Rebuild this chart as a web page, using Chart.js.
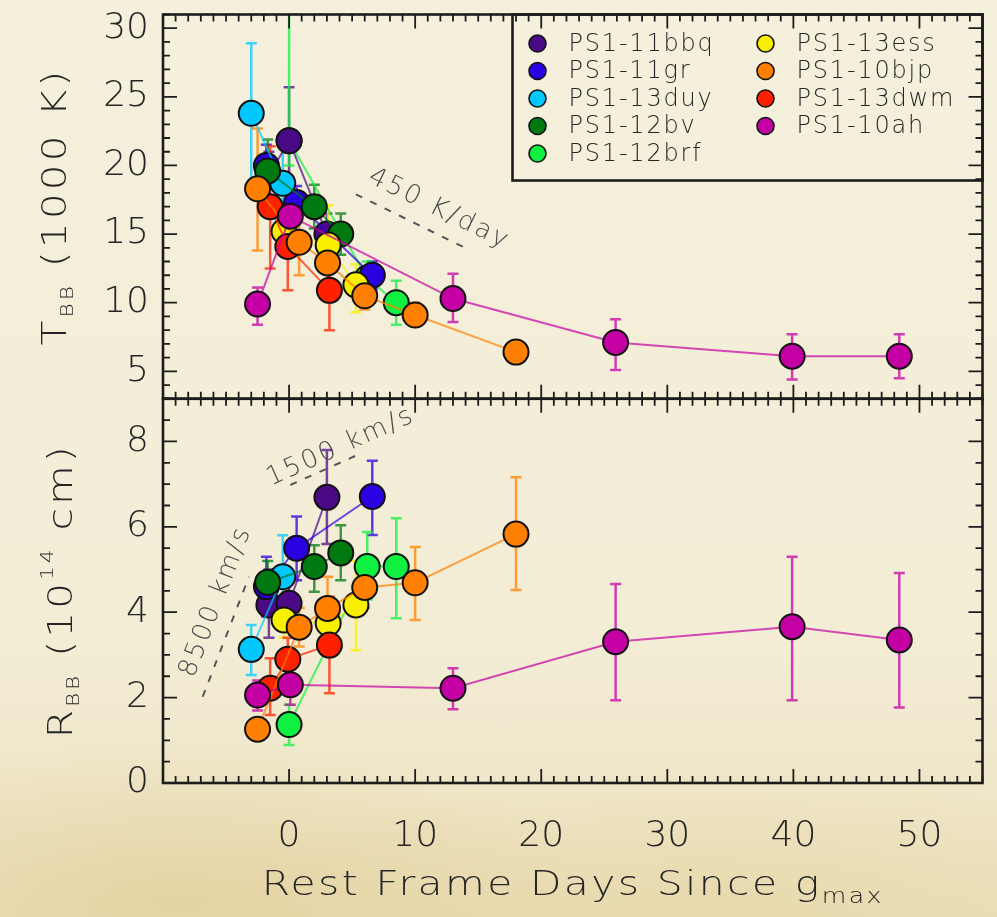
<!DOCTYPE html>
<html>
<head>
<meta charset="utf-8">
<script src="https://cdn.jsdelivr.net/npm/chart.js@4.4.1/dist/chart.umd.min.js"></script>
<style>
  html, body { margin: 0; padding: 0; }
  body {
    width: 997px; height: 917px; overflow: hidden;
    background:
      radial-gradient(ellipse 420px 160px at 180px 900px, rgba(222, 200, 140, 0.55), rgba(222, 200, 140, 0) 100%),
      radial-gradient(ellipse 500px 140px at 700px 910px, rgba(226, 208, 150, 0.45), rgba(226, 208, 150, 0) 100%),
      linear-gradient(to bottom, #f5f0dc 0%, #f3edd6 70%, #ece0bd 100%);
  }
  #wrap { position: relative; width: 997px; height: 917px; }
</style>
</head>
<body>
<div id="wrap"><canvas id="chart" width="997" height="917"></canvas></div>
<script>
// ===== Blackbody temperature & radius vs. rest-frame days =====

const NAMES = ['PS1-11bbq', 'PS1-11gr', 'PS1-13duy', 'PS1-12bv', 'PS1-12brf',
               'PS1-13ess', 'PS1-10bjp', 'PS1-13dwm', 'PS1-10ah'];

// rest frame days since g max, one list per object
const DAYS = [
  [-1.6, 0.0, 3.0],
  [-1.8, 0.6, 6.6],
  [-3.0, -0.5],
  [-1.7, 2.0, 4.1],
  [0.0, 6.2, 8.5],
  [-0.4, 3.1, 5.3],
  [-2.5, 0.8, 3.05, 6.0, 10.0, 18.0],
  [-1.5, -0.1, 3.2],
  [-2.5, 0.1, 13.0, 25.9, 39.9, 48.4]
];

// T_BB in 1000 K, with lower / upper error ends
const TEMP = [
  [19.3, 21.8, 15.0],
  [20.0, 17.3, 12.0],
  [23.8, 18.7],
  [19.6, 17.0, 15.0],
  [21.8, 11.8, 10.0],
  [15.2, 14.2, 11.3],
  [18.3, 14.4, 12.9, 10.5, 9.1, 6.4],
  [17.0, 14.1, 10.9],
  [9.9, 16.3, 10.3, 7.1, 6.1, 6.1]
];
const TEMP_LO = [
  [17.5, 17.9, 13.5],
  [18.5, 16.0, 11.0],
  [18.5, 14.5],
  [17.3, 15.4, 13.5],
  [20.0, 10.5, 8.4],
  [14.0, 12.5, 9.3],
  [13.8, 12.0, 11.5, 9.5, 8.3, 5.9],
  [12.5, 10.9, 8.0],
  [8.4, 14.5, 8.6, 5.1, 4.4, 4.5]
];
const TEMP_HI = [
  [21.0, 25.7, 16.5],
  [21.5, 18.5, 13.0],
  [28.9, 21.5],
  [21.9, 18.6, 16.5],
  [33.0, 13.0, 11.6],
  [16.5, 17.1, 12.8],
  [22.7, 16.9, 14.3, 11.6, 10.0, 6.9],
  [21.4, 17.2, 13.8],
  [11.1, 18.0, 12.1, 8.8, 7.7, 7.7]
];

// R_BB in 1e14 cm, with lower / upper error ends
const RAD = [
  [4.17, 4.21, 6.69],
  [4.6, 5.5, 6.71],
  [3.13, 4.83],
  [4.7, 5.07, 5.39],
  [1.37, 5.07, 5.07],
  [3.82, 3.74, 4.17],
  [1.26, 3.65, 4.09, 4.58, 4.69, 5.83],
  [2.22, 2.9, 3.23],
  [2.06, 2.3, 2.22, 3.31, 3.66, 3.35]
];
const RAD_LO = [
  [3.4, 3.8, 5.6],
  [3.9, 4.75, 5.81],
  [2.53, 3.75],
  [4.2, 4.48, 4.75],
  [0.89, 4.3, 3.86],
  [3.4, 3.2, 3.11],
  [1.0, 3.2, 3.4, 4.1, 3.82, 4.52],
  [1.59, 2.4, 2.1],
  [1.7, 1.83, 1.73, 1.94, 1.94, 1.77]
];
const RAD_HI = [
  [5.0, 4.7, 7.8],
  [5.3, 6.24, 7.55],
  [3.7, 5.8],
  [5.2, 5.57, 6.04],
  [1.83, 5.88, 6.2],
  [4.2, 4.3, 5.2],
  [1.5, 4.1, 4.83, 5.1, 5.53, 7.16],
  [2.92, 3.4, 4.36],
  [2.4, 2.73, 2.69, 4.66, 5.3, 4.92]
];

// reference slopes (day, value) end points
const LINE_450 = [[5.3, 17.9], [14.4, 13.8]];
const LINE_1500 = [[0.1, 6.98], [5.7, 7.72]];
const LINE_8500 = [[-6.85, 2.02], [-3.18, 4.83]];

const X_TICKS = [0, 10, 20, 30, 40, 50];
const T_TICKS = [5, 10, 15, 20, 25, 30];
const R_TICKS = [0, 2, 4, 6, 8];

const COLORS = ['#4a0a86', '#2a00e0', '#00c8ff', '#007a10', '#10f040',
                '#f8f000', '#ff8000', '#ff2000', '#c400a4'];
// stacking rank: higher sits on top
const RANK = [1, 2, 3, 4, 0, 5, 7, 6, 8];

const INK = '#1c1c1c';
const TXT = '#262626';
const FAMILY = "'DejaVu Sans', sans-serif";
const STRETCH = 1.2;

function alpha(hex, a) {
  const n = parseInt(hex.slice(1), 16);
  return `rgba(${n >> 16},${(n >> 8) & 255},${n & 255},${a})`;
}

function series(i, axis, vals, lo, hi) {
  return {
    type: 'line',
    label: NAMES[i],
    yAxisID: axis,
    data: DAYS[i].map((d, j) => ({ x: d, y: vals[i][j] })),
    errLo: lo[i], errHi: hi[i],
    borderColor: alpha(COLORS[i], 0.7),
    borderWidth: 2,
    backgroundColor: COLORS[i],
    pointBackgroundColor: COLORS[i],
    pointBorderColor: '#111',
    pointBorderWidth: 2,
    pointRadius: 12.5,
    pointHoverRadius: 12.5,
    tension: 0,
    order: 10 - RANK[i]
  };
}

function refLine(axis, pts) {
  return {
    type: 'line',
    label: '',
    yAxisID: axis,
    data: pts.map(p => ({ x: p[0], y: p[1] })),
    borderColor: '#555',
    borderWidth: 2,
    borderDash: [7, 9],
    pointRadius: 0,
    order: 20
  };
}

const datasets = [];
NAMES.forEach((_, i) => {
  datasets.push(series(i, 'yT', TEMP, TEMP_LO, TEMP_HI));
  datasets.push(series(i, 'yR', RAD, RAD_LO, RAD_HI));
});
datasets.push(refLine('yT', LINE_450), refLine('yR', LINE_1500), refLine('yR', LINE_8500));

const NOTES = [
  { text: '450 K/day', axis: 'yT', line: LINE_450, at: [11.9, 16.8] },
  { text: '1500 km/s', axis: 'yR', line: LINE_1500, at: [4.1, 7.87] },
  { text: '8500 km/s', axis: 'yR', line: LINE_8500, at: [-5.8, 4.25] }
];

// text pieces (size, baseline shift), drawn wide like a plotter font
function richWidth(ctx, parts, spacing) {
  let w = 0;
  parts.forEach(p => {
    ctx.font = `200 ${p.size}px ${FAMILY}`;
    ctx.letterSpacing = spacing + 'px';
    w += ctx.measureText(p.t).width;
  });
  return w * STRETCH;
}
function drawRich(ctx, parts, x, y, spacing) {
  ctx.save();
  ctx.translate(x, y);
  ctx.scale(STRETCH, 1);
  let cx = 0;
  parts.forEach(p => {
    ctx.font = `200 ${p.size}px ${FAMILY}`;
    ctx.letterSpacing = spacing + 'px';
    ctx.fillText(p.t, cx, p.dy || 0);
    cx += ctx.measureText(p.t).width;
  });
  ctx.restore();
}

const panelDecor = {
  id: 'panelDecor',
  beforeDatasetsDraw(chart) {
    const { ctx } = chart;
    const xs = chart.scales.x;
    chart.data.datasets.forEach(ds => {
      if (!ds.errLo) return;
      const ys = chart.scales[ds.yAxisID];
      ctx.save();
      ctx.beginPath();
      ctx.rect(xs.left, ys.top, xs.right - xs.left, ys.bottom - ys.top);
      ctx.clip();
      ctx.strokeStyle = alpha(ds.backgroundColor, 0.75);
      ctx.lineWidth = 2.5;
      ds.data.forEach((p, j) => {
        const px = xs.getPixelForValue(p.x);
        const y1 = ys.getPixelForValue(ds.errLo[j]);
        const y2 = ys.getPixelForValue(ds.errHi[j]);
        ctx.beginPath();
        ctx.moveTo(px, y1); ctx.lineTo(px, y2);
        ctx.moveTo(px - 5.5, y1); ctx.lineTo(px + 5.5, y1);
        ctx.moveTo(px - 5.5, y2); ctx.lineTo(px + 5.5, y2);
        ctx.stroke();
      });
      ctx.restore();
    });
  },
  afterDatasetsDraw(chart) {
    const { ctx } = chart;
    const xs = chart.scales.x;
    const panels = [
      { s: chart.scales.yT, minor: 1, major: 5 },
      { s: chart.scales.yR, minor: 0.5, major: 2 }
    ];
    ctx.save();
    ctx.strokeStyle = INK;
    panels.forEach(({ s, minor, major }) => {
      // inward ticks on all four sides
      ctx.lineWidth = 1.8;
      ctx.beginPath();
      for (let v = Math.ceil(xs.min); v <= xs.max; v += 1) {
        const px = xs.getPixelForValue(v);
        const len = v % 10 === 0 ? 14 : 7;
        ctx.moveTo(px, s.bottom); ctx.lineTo(px, s.bottom - len);
        ctx.moveTo(px, s.top); ctx.lineTo(px, s.top + len);
      }
      for (let v = Math.ceil(s.min / minor) * minor; v <= s.max + 1e-9; v += minor) {
        const py = s.getPixelForValue(v);
        const len = Math.abs(v / major - Math.round(v / major)) < 1e-6 ? 14 : 7;
        ctx.moveTo(xs.left, py); ctx.lineTo(xs.left + len, py);
        ctx.moveTo(xs.right, py); ctx.lineTo(xs.right - len, py);
      }
      ctx.stroke();
      ctx.lineWidth = 2.6;
      ctx.strokeRect(xs.left, s.top, xs.right - xs.left, s.bottom - s.top);
    });

    // slope labels along the dashed reference lines
    ctx.fillStyle = '#4a4a4a';
    ctx.textAlign = 'center';
    ctx.textBaseline = 'middle';
    NOTES.forEach(n => {
      const ys = chart.scales[n.axis];
      const ax = xs.getPixelForValue(n.line[0][0]), ay = ys.getPixelForValue(n.line[0][1]);
      const bx = xs.getPixelForValue(n.line[1][0]), by = ys.getPixelForValue(n.line[1][1]);
      ctx.save();
      ctx.translate(xs.getPixelForValue(n.at[0]), ys.getPixelForValue(n.at[1]));
      ctx.rotate(Math.atan2(by - ay, bx - ax));
      ctx.font = `200 26px ${FAMILY}`;
      ctx.letterSpacing = '2.5px';
      ctx.fillText(n.text, 0, 0);
      ctx.restore();
    });
    ctx.restore();
  },
  afterDraw(chart) {
    const { ctx, chartArea: a } = chart;
    ctx.save();
    ctx.fillStyle = TXT;
    ctx.textAlign = 'left';

    // legend box in the upper right corner
    const bl = a.right - 470, bt = a.top, bb = a.top + 166;
    ctx.strokeStyle = INK;
    ctx.lineWidth = 2.6;
    ctx.strokeRect(bl, bt, a.right - bl, bb - bt);
    NAMES.forEach((name, i) => {
      const col = i < 5 ? 0 : 1;
      const row = i < 5 ? i : i - 5;
      const mx = bl + 25 + col * 228;
      const my = bt + 29 + row * 27.5;
      ctx.beginPath();
      ctx.arc(mx, my, 8.5, 0, Math.PI * 2);
      ctx.fillStyle = COLORS[i];
      ctx.fill();
      ctx.lineWidth = 1.6;
      ctx.strokeStyle = '#111';
      ctx.stroke();
      ctx.fillStyle = TXT;
      ctx.font = `200 24px ${FAMILY}`;
      ctx.letterSpacing = '1.8px';
      ctx.textBaseline = 'middle';
      ctx.fillText(name, mx + 31, my + 1);
    });
    ctx.textBaseline = 'alphabetic';

    // x axis title
    const xt = [
      { t: 'Rest Frame Days Since g', size: 34 },
      { t: 'max', size: 21, dy: 8 }
    ];
    const xw = richWidth(ctx, xt, 2);
    drawRich(ctx, xt, (a.left + a.right) / 2 - xw / 2, 895, 2);

    // y axis titles, rotated
    const yTitles = [
      { s: chart.scales.yT, x: 66, parts: [
        { t: 'T', size: 34 }, { t: 'BB', size: 18, dy: 7 }, { t: ' (1000 K)', size: 34 }] },
      { s: chart.scales.yR, x: 72, parts: [
        { t: 'R', size: 34 }, { t: 'BB', size: 18, dy: 7 }, { t: ' (10', size: 34 },
        { t: '14', size: 18, dy: -19 }, { t: ' cm)', size: 34 }] }
    ];
    yTitles.forEach(({ s, x, parts }) => {
      const w = richWidth(ctx, parts, 2.5);
      ctx.save();
      ctx.translate(x, (s.top + s.bottom) / 2);
      ctx.rotate(-Math.PI / 2);
      drawRich(ctx, parts, -w / 2, 0, 2.5);
      ctx.restore();
    });
    ctx.restore();
  }
};

const tickFont = { family: FAMILY, size: 36, weight: '200' };
const noPad = s => { s.paddingTop = 0; s.paddingBottom = 0; s.paddingLeft = 0; s.paddingRight = 0; };

new Chart(document.getElementById('chart'), {
  type: 'line',
  data: { datasets },
  plugins: [panelDecor],
  options: {
    responsive: false,
    animation: false,
    events: [],
    layout: { padding: { top: 11, right: 7, left: 0, bottom: 0 } },
    plugins: { legend: { display: false }, tooltip: { enabled: false } },
    scales: {
      x: {
        type: 'linear', min: -10, max: 55, position: 'bottom',
        grid: { display: false, drawTicks: false }, border: { display: false },
        afterBuildTicks: s => { s.ticks = X_TICKS.map(v => ({ value: v })); },
        afterFit: s => { s.height = 134; noPad(s); },
        ticks: { font: tickFont, color: TXT, padding: 32, maxRotation: 0, autoSkip: false }
      },
      yT: {
        type: 'linear', min: 3, max: 31, position: 'left',
        stack: 'panels', stackWeight: 1, weight: 2,
        grid: { display: false, drawTicks: false }, border: { display: false },
        afterBuildTicks: s => { s.ticks = T_TICKS.map(v => ({ value: v })); },
        afterFit: s => { s.width = 163; noPad(s); },
        ticks: { font: tickFont, color: TXT, padding: 14, autoSkip: false }
      },
      yR: {
        type: 'linear', min: 0, max: 9, position: 'left',
        stack: 'panels', stackWeight: 1, weight: 1,
        grid: { display: false, drawTicks: false }, border: { display: false },
        afterBuildTicks: s => { s.ticks = R_TICKS.map(v => ({ value: v })); },
        afterFit: s => { s.width = 163; noPad(s); },
        ticks: { font: tickFont, color: TXT, padding: 14, autoSkip: false }
      }
    }
  }
});
</script>
</body>
</html>
